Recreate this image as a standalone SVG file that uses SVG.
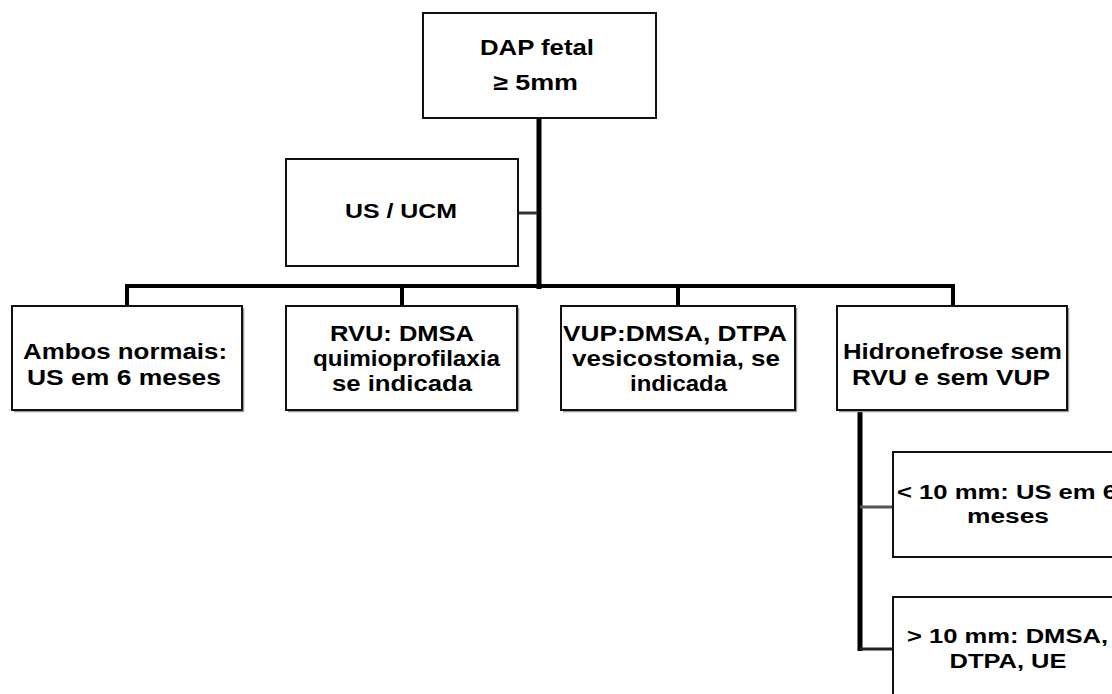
<svg xmlns="http://www.w3.org/2000/svg" width="1112" height="694" viewBox="0 0 1112 694">
<style>
  .box { fill: #ffffff; stroke: #111111; stroke-width: 2; }
  .shadow { fill: none; stroke: #9a9a9a; stroke-width: 1.5; }
  .t { font-family: "Liberation Sans", Arial, sans-serif; font-weight: bold; fill: #000000; text-anchor: middle; }
  .ts { font-family: "Liberation Sans", Arial, sans-serif; font-weight: bold; fill: #000000; text-anchor: start; }
  .f22 { font-size: 22px; }
  .f21 { font-size: 21px; }
  .f20 { font-size: 20px; }
  .bar { stroke: #000000; fill: none; stroke-linecap: butt; }
</style>
<rect x="0" y="0" width="1112" height="694" fill="#ffffff"/>
<g id="connectors">
  <line class="bar" x1="539" y1="118" x2="539" y2="289" stroke-width="5"/>
  <line class="bar" x1="125" y1="286" x2="955" y2="286" stroke-width="4"/>
  <line class="bar" x1="127" y1="284" x2="127" y2="306" stroke-width="4"/>
  <line class="bar" x1="402" y1="284" x2="402" y2="306" stroke-width="4"/>
  <line class="bar" x1="678" y1="284" x2="678" y2="306" stroke-width="4"/>
  <line class="bar" x1="953" y1="284" x2="953" y2="306" stroke-width="4"/>
  <line class="bar" x1="518" y1="213" x2="537" y2="213" stroke-width="3" style="stroke:#333333"/>
  <line class="bar" x1="860" y1="410" x2="860" y2="651" stroke-width="5"/>
  <line class="bar" x1="860" y1="507" x2="893" y2="507" stroke-width="3" style="stroke:#555555"/>
  <line class="bar" x1="860" y1="649" x2="893" y2="649" stroke-width="3" style="stroke:#222222"/>
</g>
<g id="n-dap">
  <rect class="box" x="423" y="13" width="233" height="105"/>
  <text class="t f22" x="537" y="55" textLength="114" lengthAdjust="spacingAndGlyphs">DAP fetal</text>
  <text class="t f22" x="535.5" y="90" textLength="85" lengthAdjust="spacingAndGlyphs">≥ 5mm</text>
</g>
<g id="n-us-ucm">
  <rect class="box" x="286" y="159" width="232" height="107"/>
  <text class="t f21" x="401" y="218" textLength="112" lengthAdjust="spacingAndGlyphs">US / UCM</text>
</g>
<g id="n-ambos">
  <line class="shadow" x1="14" y1="411.5" x2="243.5" y2="411.5"/>
  <line class="shadow" x1="243.5" y1="308" x2="243.5" y2="411.5"/>
  <rect class="box" x="12" y="306" width="230" height="104"/>
  <text class="t f22" x="125" y="359" textLength="204" lengthAdjust="spacingAndGlyphs">Ambos normais:</text>
  <text class="t f22" x="124" y="385" textLength="194" lengthAdjust="spacingAndGlyphs">US em 6 meses</text>
</g>
<g id="n-rvu">
  <line class="shadow" x1="288" y1="411.5" x2="518.5" y2="411.5"/>
  <line class="shadow" x1="518.5" y1="308" x2="518.5" y2="411.5"/>
  <rect class="box" x="286" y="306" width="231" height="104"/>
  <text class="t f22" x="402" y="341" textLength="144" lengthAdjust="spacingAndGlyphs">RVU: DMSA</text>
  <text class="t f22" x="406.5" y="366" textLength="187" lengthAdjust="spacingAndGlyphs">quimioprofilaxia</text>
  <text class="t f22" x="402" y="391" textLength="140" lengthAdjust="spacingAndGlyphs">se indicada</text>
</g>
<g id="n-vup">
  <line class="shadow" x1="563" y1="411.5" x2="796.5" y2="411.5"/>
  <line class="shadow" x1="796.5" y1="308" x2="796.5" y2="411.5"/>
  <rect class="box" x="561" y="306" width="234" height="104"/>
  <text class="t f22" x="675" y="341" textLength="224" lengthAdjust="spacingAndGlyphs">VUP:DMSA, DTPA</text>
  <text class="t f22" x="676" y="366" textLength="208" lengthAdjust="spacingAndGlyphs">vesicostomia, se</text>
  <text class="t f22" x="678.5" y="391" textLength="97" lengthAdjust="spacingAndGlyphs">indicada</text>
</g>
<g id="n-hidro">
  <line class="shadow" x1="839" y1="411.5" x2="1068.5" y2="411.5"/>
  <line class="shadow" x1="1068.5" y1="308" x2="1068.5" y2="411.5"/>
  <rect class="box" x="837" y="306" width="230" height="104"/>
  <text class="t f22" x="952.5" y="359" textLength="219" lengthAdjust="spacingAndGlyphs">Hidronefrose sem</text>
  <text class="t f22" x="951" y="385" textLength="198" lengthAdjust="spacingAndGlyphs">RVU e sem VUP</text>
</g>
<g id="n-menor10">
  <rect class="box" x="893" y="452" width="230" height="105"/>
  <text class="ts f20" x="897" y="499" textLength="220" lengthAdjust="spacingAndGlyphs">&lt; 10 mm: US em 6</text>
  <text class="t f20" x="1008" y="523" textLength="82" lengthAdjust="spacingAndGlyphs">meses</text>
</g>
<g id="n-maior10">
  <rect class="box" x="893" y="597" width="230" height="105"/>
  <text class="ts f20" x="907" y="643" textLength="201" lengthAdjust="spacingAndGlyphs">&gt; 10 mm: DMSA,</text>
  <text class="t f20" x="1008" y="668" textLength="117" lengthAdjust="spacingAndGlyphs">DTPA, UE</text>
</g>
</svg>
